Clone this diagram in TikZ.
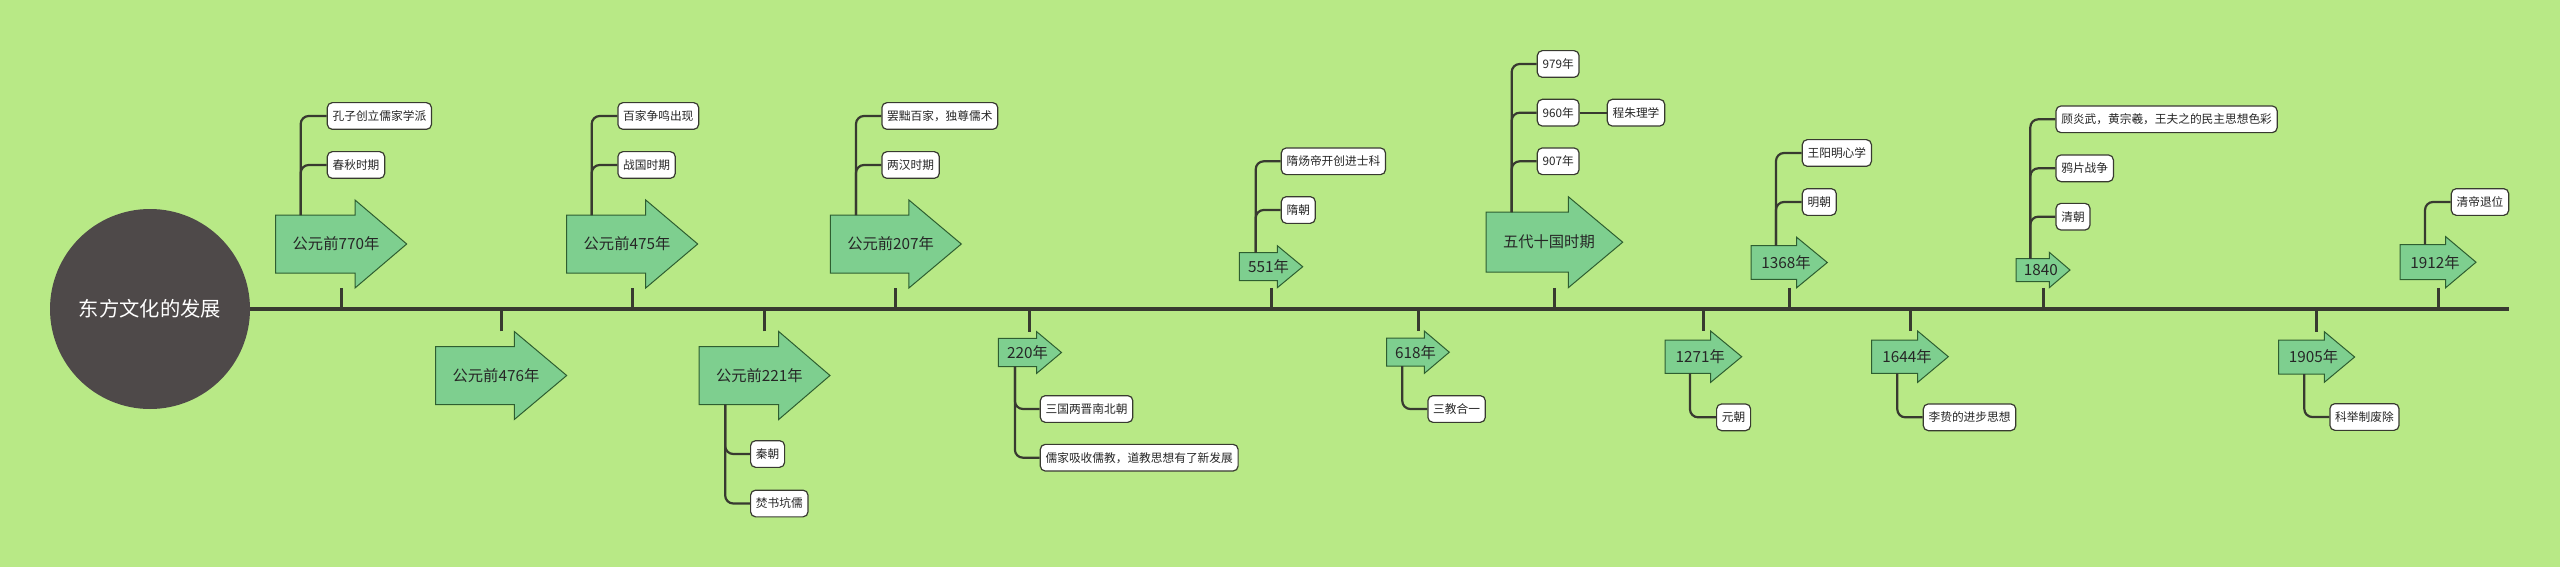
\documentclass[tikz,border=0pt]{standalone}
\usepackage{fontspec}
\setmainfont{Noto Sans CJK SC}
\usetikzlibrary{calc}
\definecolor{bgc}{HTML}{B8E986}
\definecolor{arrfill}{HTML}{7ECF8F}
\definecolor{arrline}{HTML}{2E5E30}
\definecolor{linec}{HTML}{383A30}
\definecolor{circc}{HTML}{4E4949}
\definecolor{txtc}{HTML}{262626}
\tikzset{
  arrshape/.style={fill=arrfill, draw=arrline, line width=1pt, line join=miter},
  arrbox/.style={inner sep=0pt, draw=none},
  arrtext/.style={inner sep=0pt, text=txtc, font=\fontsize{15.3}{18}\selectfont},
  leaf/.style={draw=linec, line width=1.2pt, fill=white, rounded corners=5pt, inner xsep=5.3pt, inner ysep=0pt, minimum height=26.7pt, text=txtc, font=\fontsize{11.7}{14}\selectfont, anchor=west},
  stemline/.style={draw=linec, line width=2.2pt, rounded corners=8pt},
  tickline/.style={draw=linec, line width=3pt},
  tline/.style={draw=linec, line width=3.6pt},
}
\newcommand\tlarrow[8]{%
  \filldraw[arrshape] (#2,#5-#6) -- (#3,#5-#6) -- (#3,#5-#7) -- (#4,#5) -- (#3,#5+#7) -- (#3,#5+#6) -- (#2,#5+#6) -- cycle;
  \node[arrbox, minimum width={#4-#2}, minimum height={2*#7}] (#1) at ({(#2+#4)/2},#5) {};
  \node[arrtext] (#1t) at ({(#2+#4)/2-0.1*(#4-#3)},#5) {#8};
}
\begin{document}
\begin{tikzpicture}[x=1pt,y=-1pt]
\useasboundingbox (0,0) rectangle (2560,567);
\fill[bgc] (0,0) rectangle (2560,567);

% root and timeline
\node[circle, fill=circc, minimum size=200pt, inner sep=0pt, text=white, font=\fontsize{20.3}{24}\selectfont] (root) at (150,309) {东方文化的发展};
\coordinate (tlB) at (2509,309);
\draw[tline] (root.east) -- (tlB);

% upper arrows
\tlarrow{a770}{275.7}{355}{406.7}{244}{29}{44}{公元前770年}
\tlarrow{a475}{566.7}{645.7}{697.7}{244}{29}{44}{公元前475年}
\tlarrow{a207}{830.4}{908.9}{961.3}{244}{29}{44}{公元前207年}
\tlarrow{a551}{1239.3}{1277.3}{1302.7}{266.7}{14}{21}{551年}
\tlarrow{a5d}{1486}{1568.3}{1622.7}{242.2}{30}{45.5}{五代十国时期}
\tlarrow{a1368}{1751}{1796.7}{1827.3}{262.5}{16.8}{25.2}{1368年}
\tlarrow{a1840}{2016}{2049.3}{2070}{270}{11.5}{17.7}{1840}
\tlarrow{a1912}{2400}{2445.7}{2476}{262.2}{17.5}{25.5}{1912年}

% lower arrows
\tlarrow{a476}{435.7}{514.3}{566.7}{375.5}{29}{44}{公元前476年}
\tlarrow{a221}{699.1}{778.7}{830}{375.5}{29}{44}{公元前221年}
\tlarrow{a220}{998.4}{1036.7}{1061.5}{352.5}{14.2}{20.8}{220年}
\tlarrow{a618}{1386.7}{1424.3}{1449.3}{352.2}{14}{21.2}{618年}
\tlarrow{a1271}{1665}{1710.7}{1741.7}{356.7}{16.7}{25.6}{1271年}
\tlarrow{a1644}{1871.7}{1917.7}{1948.3}{356.7}{16.7}{25.6}{1644年}
\tlarrow{a1905}{2278.6}{2324.3}{2354.6}{357}{17}{25.3}{1905年}

% ticks
\foreach \n in {a770,a475,a207,a551,a5d,a1368,a1840,a1912}
  \draw[tickline] (\n.south) -- (\n.south |- tlB);
\foreach \n in {a476,a221,a220,a618,a1271,a1644,a1905}
  \draw[tickline] (\n.north) -- (\n.north |- tlB);

% stem start points
\coordinate (a770s) at (300.7,215);
\coordinate (a475s) at (591.7,215);
\coordinate (a207s) at (856,215);
\coordinate (a551s) at (1255.7,252.7);
\coordinate (a5ds) at (1511.7,212.2);
\coordinate (a1368s) at (1776,245.7);
\coordinate (a1840s) at (2030.3,258.5);
\coordinate (a1912s) at (2425,244.7);
\coordinate (a221s) at (725.2,404.5);
\coordinate (a220s) at (1014.9,366.7);
\coordinate (a618s) at (1402.3,366.2);
\coordinate (a1271s) at (1690,373.4);
\coordinate (a1644s) at (1897.3,373.4);
\coordinate (a1905s) at (2304.3,374);

% leaves
\node[leaf] (c770a) at (326.7,116) {孔子创立儒家学派};
\node[leaf] (c770b) at (326.7,165) {春秋时期};
\node[leaf] (c475a) at (617.3,116) {百家争鸣出现};
\node[leaf] (c475b) at (617.3,165) {战国时期};
\node[leaf] (c207a) at (881.3,116) {罢黜百家，独尊儒术};
\node[leaf] (c207b) at (881.3,165) {两汉时期};
\node[leaf] (c221a) at (750,454) {秦朝};
\node[leaf] (c221b) at (750,503.5) {焚书坑儒};
\node[leaf] (c220a) at (1039.7,409) {三国两晋南北朝};
\node[leaf] (c220b) at (1039.7,457.7) {儒家吸收儒教，道教思想有了新发展};
\node[leaf] (c551a) at (1280.7,161.3) {隋炀帝开创进士科};
\node[leaf] (c551b) at (1280.7,210) {隋朝};
\node[leaf] (c5da) at (1536.7,64) {979年};
\node[leaf] (c5db) at (1536.7,112.7) {960年};
\node[leaf] (c5dc) at (1536.7,161.3) {907年};
\node[leaf] (c5dd) at (1606.7,112.7) {程朱理学};
\node[leaf] (c618a) at (1427.3,409) {三教合一};
\node[leaf] (c1368a) at (1801.7,153) {王阳明心学};
\node[leaf] (c1368b) at (1801.7,202) {明朝};
\node[leaf] (c1271a) at (1716,417.3) {元朝};
\node[leaf] (c1644a) at (1922.7,417.3) {李贽的进步思想};
\node[leaf] (c1840a) at (2055.4,119.3) {顾炎武，黄宗羲，王夫之的民主思想色彩};
\node[leaf] (c1840b) at (2055.4,168.3) {鸦片战争};
\node[leaf] (c1840c) at (2055.4,216.7) {清朝};
\node[leaf] (c1912a) at (2450.7,202) {清帝退位};
\node[leaf] (c1905a) at (2329.3,417) {科举制废除};

% connectors
\foreach \s/\c in {a770s/c770a,a770s/c770b,a475s/c475a,a475s/c475b,a207s/c207a,a207s/c207b,
  a221s/c221a,a221s/c221b,a220s/c220a,a220s/c220b,a551s/c551a,a551s/c551b,
  a5ds/c5da,a5ds/c5db,a5ds/c5dc,a618s/c618a,a1368s/c1368a,a1368s/c1368b,
  a1271s/c1271a,a1644s/c1644a,a1840s/c1840a,a1840s/c1840b,a1840s/c1840c,
  a1912s/c1912a,a1905s/c1905a}
  \draw[stemline] (\s) |- (\c.west);
\draw[stemline] (c5db.east) -- (c5dd.west);
\end{tikzpicture}
\end{document}
